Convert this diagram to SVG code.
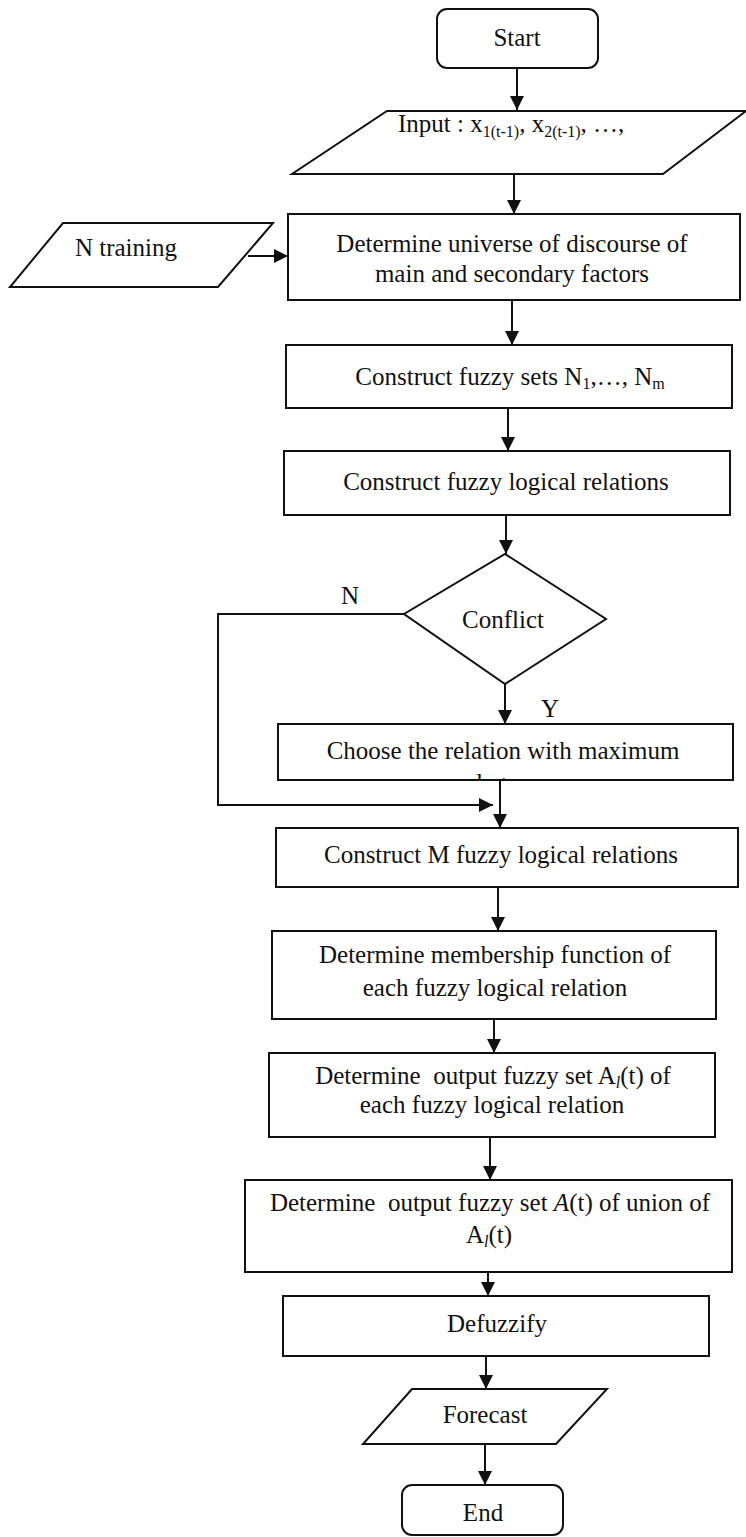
<svg xmlns="http://www.w3.org/2000/svg" width="746" height="1537" viewBox="0 0 746 1537">
<style>
.s{fill:#fff;stroke:#111;stroke-width:2}
.t{font-family:"Liberation Serif","Times New Roman",serif;font-size:25px;fill:#111}
.c{text-anchor:middle}
.sub{font-size:16px}
.e{stroke:#111;stroke-width:2;fill:none}
</style>
<defs>
<marker id="ah" markerUnits="userSpaceOnUse" markerWidth="14" markerHeight="14" viewBox="0 0 14 14" refX="14" refY="7" orient="auto">
<path d="M0,0 L14,7 L0,14 Z" fill="#111"/>
</marker>
<clipPath id="chooseClip"><rect x="278" y="724" width="455" height="55"/></clipPath>
</defs>
<rect width="746" height="1537" fill="#fff"/>
<g id="connectors">
<line class="e" x1="517" y1="68" x2="517" y2="110" marker-end="url(#ah)"/>
<line class="e" x1="514" y1="174" x2="514" y2="214" marker-end="url(#ah)"/>
<line class="e" x1="248" y1="256" x2="288" y2="256" marker-end="url(#ah)"/>
<line class="e" x1="512" y1="300" x2="512" y2="345" marker-end="url(#ah)"/>
<line class="e" x1="508" y1="408" x2="508" y2="451" marker-end="url(#ah)"/>
<line class="e" x1="506" y1="515" x2="506" y2="554" marker-end="url(#ah)"/>
<polyline class="e" points="404,614 218,614 218,805 493,805" marker-end="url(#ah)"/>
<line class="e" x1="505" y1="684" x2="505" y2="724" marker-end="url(#ah)"/>
<line class="e" x1="500" y1="780" x2="500" y2="828" marker-end="url(#ah)"/>
<line class="e" x1="498" y1="887" x2="498" y2="931" marker-end="url(#ah)"/>
<line class="e" x1="494" y1="1019" x2="494" y2="1053" marker-end="url(#ah)"/>
<line class="e" x1="490" y1="1137" x2="490" y2="1180" marker-end="url(#ah)"/>
<line class="e" x1="488" y1="1272" x2="488" y2="1296" marker-end="url(#ah)"/>
<line class="e" x1="486" y1="1356" x2="486" y2="1389" marker-end="url(#ah)"/>
<line class="e" x1="485" y1="1444" x2="485" y2="1485" marker-end="url(#ah)"/>
<text class="t c" x="350" y="604">N</text>
<text class="t c" x="550" y="717">Y</text>
</g>
<g id="start">
<rect class="s" x="437" y="9" width="161" height="59" rx="10"/>
<text class="t c" x="517" y="46">Start</text>
</g>
<g id="input">
<polygon class="s" points="387,111 746,111 663,174 292,174"/>
<text class="t" x="398" y="132">Input : x<tspan class="sub" dy="5">1(t-1)</tspan><tspan dy="-5">, x</tspan><tspan class="sub" dy="5">2(t-1)</tspan><tspan dy="-5">, …,</tspan></text>
</g>
<g id="ntraining">
<polygon class="s" points="63,223 273,223 218,287 10,287"/>
<text class="t c" x="126" y="256">N training</text>
</g>
<g id="universe">
<rect class="s" x="288" y="214" width="452" height="86"/>
<text class="t c" x="512" y="252">Determine universe of discourse of</text>
<text class="t c" x="512" y="282">main and secondary factors</text>
</g>
<g id="fuzzysets">
<rect class="s" x="286" y="345" width="446" height="63"/>
<text class="t c" x="510" y="385">Construct fuzzy sets N<tspan class="sub" dy="4">1</tspan><tspan dy="-4">,…, N</tspan><tspan class="sub" dy="4">m</tspan></text>
</g>
<g id="relations">
<rect class="s" x="284" y="451" width="446" height="64"/>
<text class="t c" x="506" y="490">Construct fuzzy logical relations</text>
</g>
<g id="conflict">
<polygon class="s" points="505,554 606,619 505,684 404,614"/>
<text class="t c" x="503" y="628">Conflict</text>
</g>
<g id="choose">
<rect class="s" x="278" y="724" width="455" height="56"/>
<text class="t c" x="503" y="759">Choose the relation with maximum</text>
<text class="t c" x="503" y="791" clip-path="url(#chooseClip)">degree</text>
</g>
<g id="constructM">
<rect class="s" x="276" y="828" width="462" height="59"/>
<text class="t c" x="501" y="863">Construct M fuzzy logical relations</text>
</g>
<g id="membership">
<rect class="s" x="272" y="931" width="444" height="88"/>
<text class="t c" x="495" y="963">Determine membership function of</text>
<text class="t c" x="495" y="996">each fuzzy logical relation</text>
</g>
<g id="outputAl">
<rect class="s" x="269" y="1053" width="446" height="84"/>
<text class="t c" x="493" y="1084" xml:space="preserve">Determine  output fuzzy set A<tspan class="sub" font-style="italic" dy="4">l</tspan><tspan dy="-4">(t) of</tspan></text>
<text class="t c" x="492" y="1113">each fuzzy logical relation</text>
</g>
<g id="outputA">
<rect class="s" x="245" y="1180" width="487" height="92"/>
<text class="t c" x="490" y="1211" xml:space="preserve">Determine  output fuzzy set <tspan font-style="italic">A</tspan>(t) of union of</text>
<text class="t c" x="489" y="1243">A<tspan class="sub" font-style="italic" dy="4">l</tspan><tspan dy="-4">(t)</tspan></text>
</g>
<g id="defuzzify">
<rect class="s" x="283" y="1296" width="426" height="60"/>
<text class="t c" x="497" y="1332">Defuzzify</text>
</g>
<g id="forecast">
<polygon class="s" points="412,1389 607,1389 556,1444 363,1444"/>
<text class="t c" x="485" y="1423">Forecast</text>
</g>
<g id="end">
<rect class="s" x="402" y="1485" width="161" height="50" rx="10"/>
<text class="t c" x="483" y="1521">End</text>
</g>
</svg>
